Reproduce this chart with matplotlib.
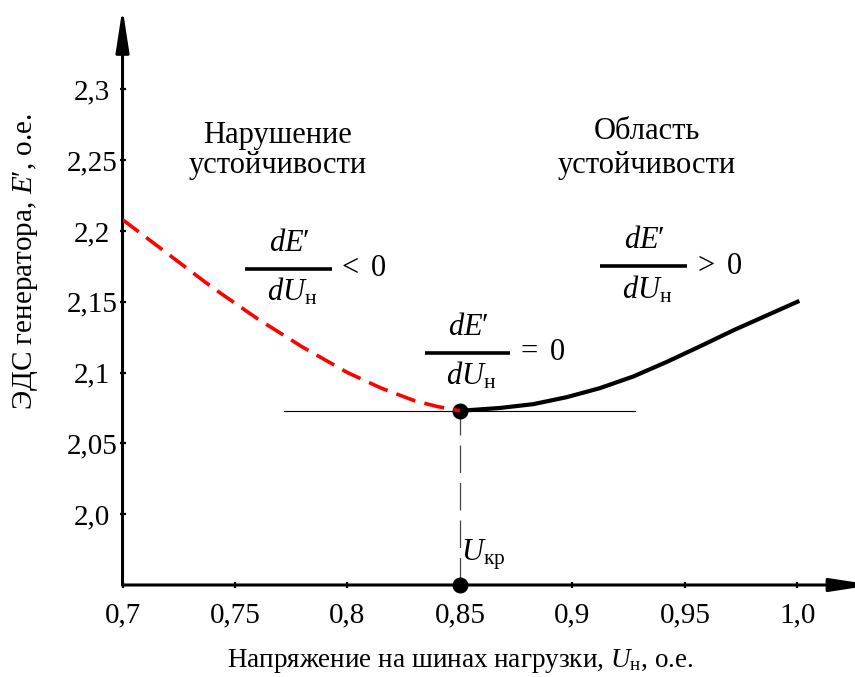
import numpy as np
from matplotlib import pyplot as plt

plt.rcParams['font.family'] = ['Liberation Serif', 'DejaVu Serif']
plt.rcParams['mathtext.fontset'] = 'custom'
plt.rcParams['mathtext.rm'] = 'Liberation Serif'
plt.rcParams['mathtext.it'] = 'Liberation Serif:italic'

# unstable branch (dashed red) and stable branch (solid black)
u_unstable = [0.700, 0.720, 0.740, 0.760, 0.780, 0.800, 0.815, 0.830, 0.840, 0.850]
e_unstable = [2.208, 2.184, 2.160, 2.138, 2.118, 2.100, 2.089, 2.080, 2.076, 2.073]
u_stable = [0.850, 0.8678, 0.8826, 0.8974, 0.9122, 0.9270, 0.9419, 0.9567,
            0.9715, 0.9863, 1.000]
e_stable = [2.073, 2.0750, 2.0777, 2.0826, 2.0890, 2.0972, 2.1075, 2.1185,
            2.1298, 2.1403, 2.150]

# critical point and tangent
u_crit = 0.85
e_crit = 2.073
tangent_u = [0.772, 0.928]

x_ticks = [0.7, 0.75, 0.8, 0.85, 0.9, 0.95, 1.0]
x_labels = ['0,7', '0,75', '0,8', '0,85', '0,9', '0,95', '1,0']
y_ticks = [2.0, 2.05, 2.1, 2.15, 2.2, 2.25, 2.3]
y_labels = ['2,0', '2,05', '2,1', '2,15', '2,2', '2,25', '2,3']

fig = plt.figure(figsize=(8.55, 6.77), dpi=100)
ax = fig.add_axes([0.1433, 0.1359, 0.8567, 0.842])
ax.set_xlim(0.7, 1.0256)
ax.set_ylim(1.95, 2.3525)

for s in ax.spines.values():
    s.set_visible(False)

# axes with arrows
arrow = dict(arrowstyle='-|>,head_length=1.3,head_width=0.2', lw=2.2,
             color='black', shrinkA=0, shrinkB=0, mutation_scale=20)
ax.annotate('', xy=(0, 1.012), xytext=(0, 0), xycoords='axes fraction',
            arrowprops=arrow, annotation_clip=False)
ax.annotate('', xy=(1.025, 0), xytext=(0, 0), xycoords='axes fraction',
            arrowprops=arrow, annotation_clip=False)

ax.set_xticks(x_ticks)
ax.set_xticklabels(x_labels)
ax.set_yticks(y_ticks)
ax.set_yticklabels(y_labels)
ax.tick_params(direction='inout', length=5, width=1.6, labelsize=21)
ax.tick_params(axis='x', pad=10)
ax.tick_params(axis='y', pad=19.5)
for lab in ax.get_yticklabels():
    lab.set_horizontalalignment('center')

# tangent and projection
ax.plot(tangent_u, [e_crit, e_crit], color='black', lw=0.8, zorder=2)
ax.plot([u_crit, u_crit], [1.95, e_crit], color='#444444', lw=0.9,
        dashes=(22, 8), zorder=2)

# critical points
ax.plot([u_crit, u_crit], [e_crit, 1.95], 'o', color='black', ms=10.5,
        clip_on=False, zorder=3)

# curves
ax.plot(u_stable, e_stable, color='black', lw=3, zorder=4,
        solid_joinstyle='round')
red, = ax.plot(u_unstable, e_unstable, color='#ff0000', lw=2.6, zorder=5)
red.set_dashes([5.6, 2.6])

# region captions
fs = 22
ax.text(0.7688, 2.2622, 'Нарушение', ha='center', va='baseline', fontsize=fs)
ax.text(0.7688, 2.2410, 'устойчивости', ha='center', va='baseline', fontsize=fs)
ax.text(0.9331, 2.2650, 'Область', ha='center', va='baseline', fontsize=fs)
ax.text(0.9331, 2.2410, 'устойчивости', ha='center', va='baseline', fontsize=fs)

# derivative fractions
fractions = [
    (0.7544, 0.7930, 2.1734, r'$<$ 0'),
    (0.8344, 0.8722, 2.1139, r'$=$ 0'),
    (0.9122, 0.9509, 2.1749, r'$>$ 0'),
]
for x0, x1, yb, rel in fractions:
    xc = 0.5 * (x0 + x1) + 0.0005
    ax.plot([x0, x1], [yb, yb], color='black', lw=2.6, solid_capstyle='butt',
            zorder=4)
    ax.text(xc, yb + 0.0180, r'$dE\prime$', ha='center', va='center',
            fontsize=fs)
    ax.text(xc + 0.001, yb - 0.0165, r'$dU_{\mathrm{н}}$', ha='center',
            va='center', fontsize=fs)
    ax.text(x1 + 0.0025, yb, rel, ha='left', va='center', fontsize=fs)

ax.text(0.8506, 1.967, r'$U_{\mathrm{кр}}$', ha='left', va='baseline',
        fontsize=fs)

# axis titles
fig.text(0.5380, 0.024, r'Напряжение на шинах нагрузки, $U_{\mathrm{н}}$, о.е.',
         ha='center', va='center', fontsize=19.5)
fig.text(0.0304, 0.613, r'ЭДС генератора, $E\prime$, о.е.', rotation=90,
         ha='center', va='center', fontsize=21)

plt.savefig('out.png', dpi=100)
plt.close()
